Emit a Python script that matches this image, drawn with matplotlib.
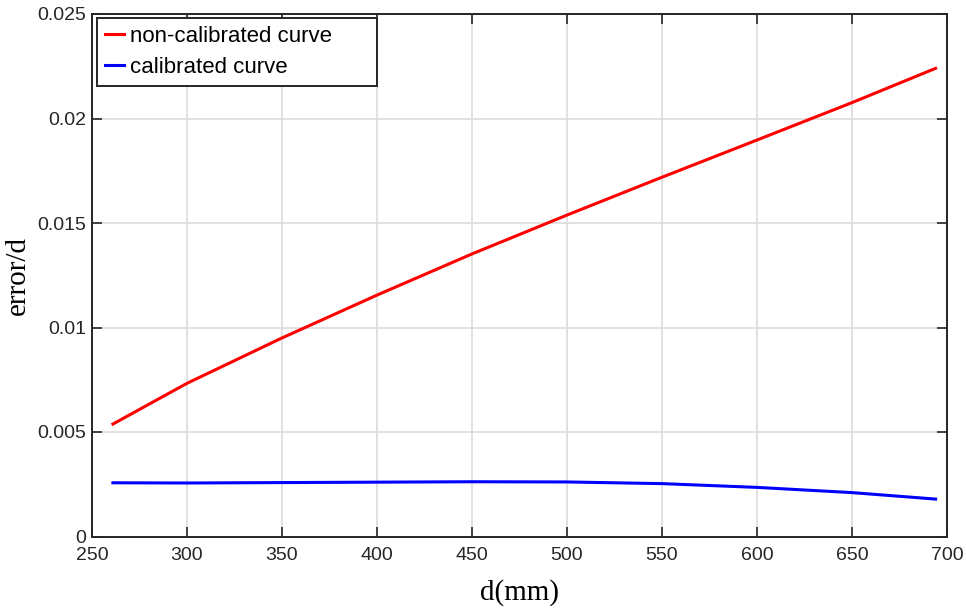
import matplotlib
matplotlib.use("Agg")
import matplotlib.pyplot as plt

# distance (mm) and relative error for both curves
d_mm = [261, 300, 350, 400, 450, 500, 550, 600, 650, 694]
err_raw = [0.00538, 0.00733, 0.00950, 0.01155, 0.01352, 0.01538, 0.01719, 0.01897, 0.02076, 0.0224]
err_cal = [0.00257, 0.00256, 0.00258, 0.0026, 0.00262, 0.00261, 0.00253, 0.00235, 0.0021, 0.00179]

x_ticks = [250, 300, 350, 400, 450, 500, 550, 600, 650, 700]
y_ticks = [0, 0.005, 0.01, 0.015, 0.02, 0.025]
y_labels = ["0", "0.005", "0.01", "0.015", "0.02", "0.025"]

fig = plt.figure(figsize=(9.66, 6.08), dpi=100)
ax = fig.add_axes([92 / 966, 71.5 / 608, 855 / 966, 522.5 / 608])

ax.plot(d_mm, err_raw, color="#ff0000", lw=2.2, label="non-calibrated curve")
ax.plot(d_mm, err_cal, color="#0000ff", lw=2.2, label="calibrated curve")

ax.set_xlim(250, 700)
ax.set_ylim(0, 0.025)
ax.set_xticks(x_ticks)
ax.set_xticklabels([str(t) for t in x_ticks], fontfamily="Liberation Sans", fontsize=14, color="#262626")
ax.set_yticks(y_ticks)
ax.set_yticklabels(y_labels, fontfamily="Liberation Sans", fontsize=14, color="#262626")
ax.tick_params(direction="in", length=7, width=1.2, top=True, right=True, color="#262626")
ax.tick_params(axis="y", pad=4)
ax.tick_params(axis="x", pad=7.5)

ax.grid(True, color="#dcdcdc", lw=1.2)
ax.set_axisbelow(True)
for s in ax.spines.values():
    s.set_color("#262626")
    s.set_linewidth(1.4)

ax.set_xlabel("d(mm)", fontfamily="Liberation Serif", fontsize=21, labelpad=11)
ax.set_ylabel("error/d", fontfamily="Liberation Serif", fontsize=21, labelpad=4.5)

leg = ax.legend(loc="upper left", bbox_to_anchor=(0.006, 0.7, 0.327, 0.292), mode="expand",
                prop={"family": "Liberation Sans", "size": 16},
                handlelength=0.85, handletextpad=0.3, borderaxespad=0,
                fancybox=False, framealpha=1, edgecolor="#262626", borderpad=0.35,
                labelspacing=0.45)
leg.get_frame().set_linewidth(1.4)

fig.savefig("out.png", dpi=100)
